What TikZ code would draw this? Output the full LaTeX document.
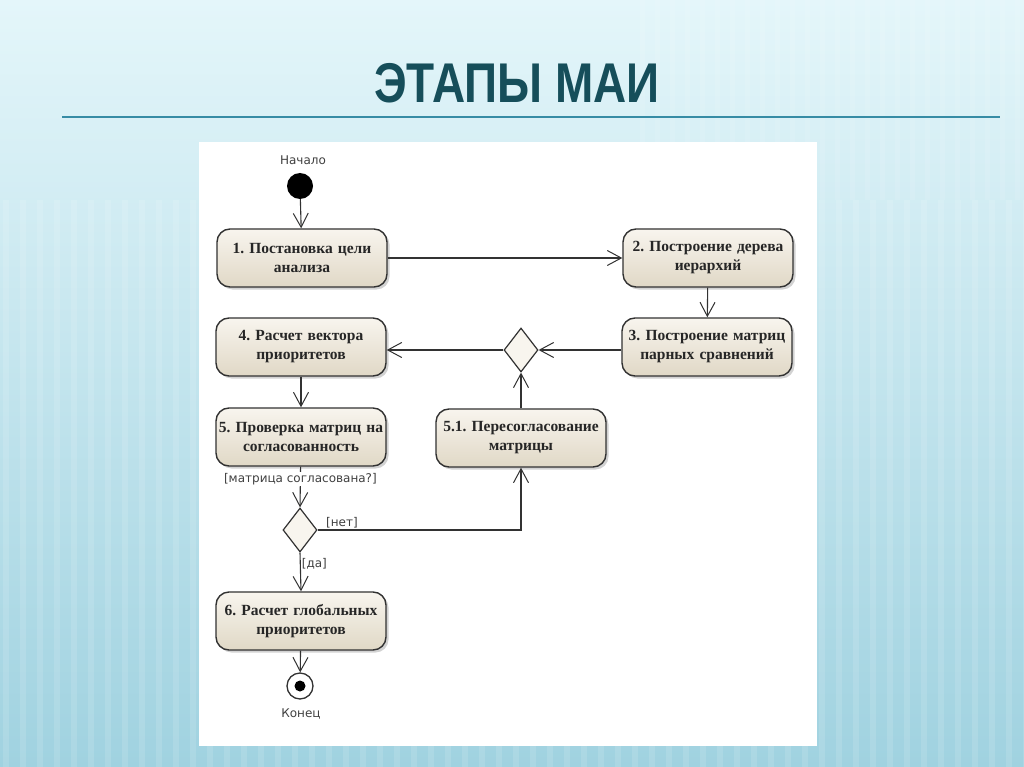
\documentclass[tikz,border=0pt]{standalone}
\usepackage{fontspec}
\setmainfont{Liberation Serif}
\newfontfamily\titlefont{Liberation Sans}
\newfontfamily\lblfont{DejaVu Sans}
\usetikzlibrary{arrows.meta,shapes.geometric,shadows,calc}
\definecolor{bgtop}{RGB}{228,246,250}
\definecolor{bgbot}{RGB}{160,210,224}
\definecolor{titlec}{RGB}{22,78,90}
\definecolor{rulec}{RGB}{55,140,165}
\definecolor{boxtop}{RGB}{248,245,238}
\definecolor{boxbot}{RGB}{224,216,198}
\definecolor{edgec}{RGB}{50,50,50}
\tikzset{
  actbox/.style={draw=edgec, line width=1.4pt, rounded corners=13pt,
    top color=boxtop, bottom color=boxbot,
    minimum width=169pt, minimum height=58pt, text width=170pt, inner xsep=0pt, align=center,
    font=\fontsize{15.5}{19}\selectfont\bfseries\frenchspacing, text=black!85,
    drop shadow={opacity=0.35, shadow xshift=2.5pt, shadow yshift=-2.5pt}},
  decision/.style={draw=edgec, line width=1.2pt, diamond, aspect=0.77,
    fill=boxtop, inner sep=0pt, minimum width=34pt, minimum height=44pt},
  flow/.style={draw=edgec, line width=1.1pt, -{Straight Barb[length=14pt,width=15pt,line width=1pt]}},
  lbl/.style={font=\lblfont\fontsize{12}{14}\selectfont, text=black!75, inner sep=1pt}
}
\begin{document}
\begin{tikzpicture}[x=1pt,y=-1pt]
\useasboundingbox (0,0) rectangle (1024,767);
% background
\shade[top color=bgtop, bottom color=bgbot] (0,0) rectangle (1024,767);
\foreach \i in {0,...,60}{
  \fill[white, opacity=0.12] (\i*17+3,200) rectangle ++(6,567);
}
\foreach \i in {0,...,25}{
  \fill[white, opacity=0.10] (640+\i*15,0) rectangle ++(5,200);
}
% title
\node[font=\titlefont\bfseries\fontsize{56}{60}\selectfont, text=titlec, xscale=0.82, inner sep=0pt, anchor=base] (title) at (517,103) {ЭТАПЫ МАИ};
\draw[rulec, line width=1.6pt] (62,117) -- (1000,117);
% panel
\fill[white] (199,142) rectangle (817,746);
% nodes
\node[circle, fill=black, minimum size=26pt, inner sep=0pt] (start) at (300,186) {};
\node[lbl] (startl) at (303,160) {Начало};
\node[actbox] (n1) at (302,258) {1. Постановка цели\\анализа};
\node[actbox] (n2) at (708,258) {2. Построение дерева\\иерархий};
\node[actbox] (n3) at (707,347) {3. Построение матриц\\парных сравнений};
\node[actbox] (n4) at (301,347) {4. Расчет вектора\\приоритетов};
\node[actbox] (n5) at (301,437) {5. Проверка матриц на\\согласованность};
\node[actbox] (n51) at (521,438) {5.1. Пересогласование\\матрицы};
\node[actbox] (n6) at (301,621) {6. Расчет глобальных\\приоритетов};
\node[decision] (d1) at (521,350) {};
\node[decision] (d2) at (300,530) {};
\node[circle, draw=edgec, line width=1.3pt, fill=white, minimum size=26pt, inner sep=0pt] (end) at (300,686) {};
\node[circle, fill=black, minimum size=11pt, inner sep=0pt] (endin) at (end.center) {};
\node[lbl] (endl) at (301,714) {Конец};
% edges
\draw[flow] (start) -- (n1);
\draw[flow] (n1.east) -- (n2.west);
\draw[flow] (n2) -- (n3);
\draw[flow] (n3.west |- d1.east) -- (d1.east);
\draw[flow] (d1.west) -- (n4.east |- d1.west);
\draw[flow] (n4) -- (n5);
\draw[flow] (n5) -- node[lbl, pos=0.3, fill=white] (q) {[матрица согласована?]} (d2.north);
\draw[flow] (d2.east) -- node[lbl, pos=0.12, above] (no) {[нет]} (n51.south |- d2.east) -- (n51.south);
\draw[flow] (d2.south) -- node[lbl, pos=0.3, right] (yes) {[да]} (n6.north);
\draw[flow] (n51.north) -- (d1.south);
\draw[flow] (n6) -- (end);
\end{tikzpicture}
\end{document}
